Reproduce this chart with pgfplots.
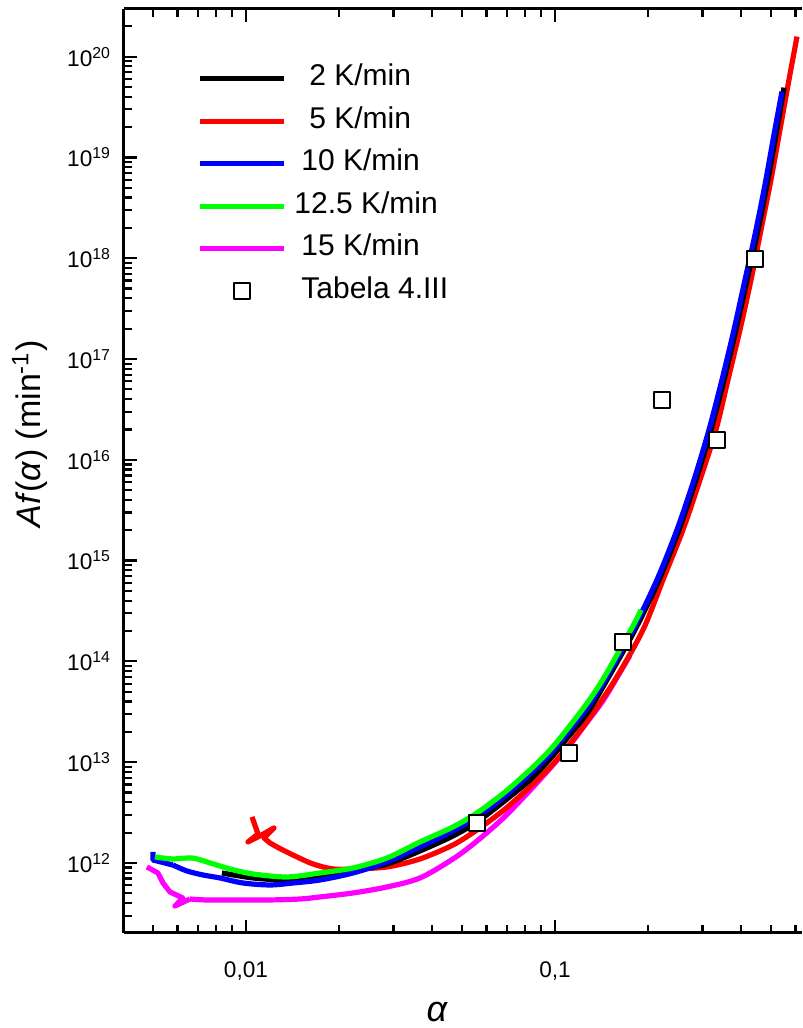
\documentclass[border=0pt]{standalone}
\usepackage{fontspec}
\setmainfont{Liberation Sans}
\usepackage{pgfplots}
\pgfplotsset{compat=1.18}

\definecolor{cblue}{RGB}{0,0,255}
\definecolor{cred}{RGB}{255,0,0}
\definecolor{cgreen}{RGB}{0,255,0}
\definecolor{cmag}{RGB}{255,0,255}

\begin{document}
\begin{tikzpicture}
\begin{axis}[
    scale only axis,
    width=339pt, height=462pt,
    xmode=log, ymode=log,
    xmin=0.00403, xmax=0.63,
    ymin=2.02e11, ymax=2.97e20,
    axis y line=left,
    y axis line style={-},
    axis line style={line width=1.5pt},
    tick align=inside,
    major tick length=6.5pt, minor tick length=4pt,
    tick style={black, line width=1.1pt},
    xtick={0.01,0.1},
    xticklabels={{0,01},{0,1}},
    minor xtick={0.005,0.006,0.007,0.008,0.009,0.02,0.03,0.04,0.05,0.06,0.07,0.08,0.09,0.2,0.3,0.4,0.5,0.6},
    ytick={1e12,1e13,1e14,1e15,1e16,1e17,1e18,1e19,1e20},
    yticklabels={10\textsuperscript{12},10\textsuperscript{13},10\textsuperscript{14},10\textsuperscript{15},10\textsuperscript{16},10\textsuperscript{17},10\textsuperscript{18},10\textsuperscript{19},10\textsuperscript{20}},
    minor ytick={3e11,4e11,5e11,6e11,7e11,8e11,9e11,
        2e12,3e12,4e12,5e12,6e12,7e12,8e12,9e12,
        2e13,3e13,4e13,5e13,6e13,7e13,8e13,9e13,
        2e14,3e14,4e14,5e14,6e14,7e14,8e14,9e14,
        2e15,3e15,4e15,5e15,6e15,7e15,8e15,9e15,
        2e16,3e16,4e16,5e16,6e16,7e16,8e16,9e16,
        2e17,3e17,4e17,5e17,6e17,7e17,8e17,9e17,
        2e18,3e18,4e18,5e18,6e18,7e18,8e18,9e18,
        2e19,3e19,4e19,5e19,6e19,7e19,8e19,9e19,2e20},
    tick label style={font=\fontsize{11.3}{13}\selectfont},
    xticklabel style={yshift=-11pt},
    yticklabel style={xshift=-3pt},
    xlabel={\textit{α}},
    xlabel style={font=\fontsize{18}{20}\selectfont, at={(axis description cs:0.462,-0.0855)}, anchor=center},
    ylabel={\textit{Af}(\textit{α}) (min\textsuperscript{-1})},
    ylabel style={font=\fontsize{17}{19}\selectfont, at={(axis description cs:-0.1386,0.54)}, anchor=center, rotate=0},
    legend cell align=left,
    legend image code/.code={\draw[mark repeat=2, mark phase=2, #1] plot coordinates {(0pt,0pt) (21pt,0pt) (42pt,0pt)};},
    legend style={at={(axis description cs:0.1077,0.939)}, anchor=north west,
        draw=none, fill=none, inner sep=0pt,
        font=\fontsize{15}{15}\selectfont, row sep=8.25pt,
        nodes={inner sep=0pt, text height=10pt, text depth=3pt},
        /tikz/every odd column/.append style={column sep=7.5pt}},
    every axis plot/.append style={line width=2.6pt, line join=round},
]
% legend entries first, the curves follow in overlap order
\addlegendimage{black, line width=2.5pt}
\addlegendentry{\hspace{4pt}2 K/min}
\addlegendimage{cred, line width=2.5pt}
\addlegendentry{\hspace{4pt}5 K/min}
\addlegendimage{cblue, line width=2.5pt}
\addlegendentry{10 K/min}
\addlegendimage{cgreen, line width=2.5pt}
\addlegendentry{\hspace{-3.5pt}12.5 K/min}
\addlegendimage{cmag, line width=2.5pt}
\addlegendentry{15 K/min}
\addlegendimage{only marks, mark=square*, mark size=4pt, mark options={fill=white, draw=black, line width=1.1pt}}
\addlegendentry{Tabela 4.III}

% 15 K/min
\addplot[cmag, forget plot] coordinates {
(0.00478,9.13e11) (0.00519,7.96e11) (0.00539,6.33e11) (0.00568,5.15e11)
(0.00625,4.49e11) (0.00589,3.74e11) (0.00659,4.39e11)
};
\addplot[cmag, smooth, tension=0.5, forget plot] coordinates {
(0.00659,4.39e11) (0.00748,4.29e11)
(0.00908,4.29e11) (0.0117,4.29e11) (0.01496,4.39e11) (0.01736,4.60e11)
(0.0222,5.04e11) (0.0286,5.78e11) (0.03657,7.10e11) (0.04677,1.096e12)
(0.05591,1.65e12) (0.0683,2.82e12) (0.08302,5.25e12) (0.097,8.9e12)
(0.111,1.445e13) (0.128,2.57e13) (0.1452,4.37e13) (0.1749,1.15e14)
};
% 5 K/min
\addplot[cred, forget plot] coordinates {
(0.01046,2.861e12) (0.01077,2.226e12) (0.01094,1.941e12) (0.01015,1.616e12)
(0.0111,1.854e12) (0.01232,2.226e12) (0.01144,1.771e12) (0.01196,1.579e12)
(0.0126,1.441e12)
};
\addplot[cred, smooth, tension=0.5, forget plot] coordinates {
(0.0126,1.441e12) (0.01419,1.2e12) (0.01648,9.77e11) (0.01912,8.72e11)
(0.0222,8.72e11) (0.0286,9.13e11) (0.03657,1.096e12) (0.04677,1.509e12)
(0.05591,2.126e12) (0.0683,3.35e12) (0.08302,5.68e12) (0.097,9.1e12)
(0.111,1.48e13) (0.128,2.63e13) (0.1564,6.553e13)
(0.1927,2.055e14) (0.2236,6.442e14) (0.2595,2.02e15) (0.2947,6.331e15)
(0.3319,1.985e16) (0.363,6.223e16) (0.397,1.951e17) (0.4309,6.117e17)
(0.4642,1.919e18) (0.5,6.016e18) (0.5347,1.886e19) (0.5718,5.911e19)
(0.607,1.58e20)
};
% 2 K/min
\addplot[black, smooth, tension=0.5, forget plot] coordinates {
(0.00836,7.96e11) (0.01054,7.1e11) (0.01357,6.78e11) (0.01736,7.26e11)
(0.0222,8.33e11) (0.0286,9.77e11) (0.03657,1.316e12) (0.04677,1.854e12)
(0.05591,2.552e12) (0.0683,4.07e12) (0.08302,6.67e12) (0.097,1.1e13)
(0.111,1.82e13) (0.128,3.16e13) (0.1473,6.553e13)
(0.1815,2.055e14) (0.2171,6.442e14) (0.2519,2.02e15) (0.286,6.331e15)
(0.3198,1.985e16) (0.3524,6.223e16) (0.3853,1.951e17) (0.4183,6.117e17)
(0.4506,1.711e18) (0.4853,5.364e18) (0.519,1.682e19) (0.5509,4.924e19)
};
% 10 K/min
\addplot[cblue, forget plot] coordinates {
(0.005,1.286e12) (0.005,1.071e12) (0.0058,9.55e11)
};
\addplot[cblue, smooth, tension=0.5, forget plot] coordinates {
(0.0058,9.55e11) (0.00644,8.33e11)
(0.00726,7.6e11) (0.00824,7.1e11) (0.00978,6.33e11) (0.01196,6.05e11)
(0.01419,6.33e11) (0.01736,6.78e11) (0.0222,7.96e11) (0.0286,1.023e12)
(0.03657,1.441e12) (0.04677,2.078e12) (0.05591,2.861e12) (0.0683,4.5e12)
(0.08302,7.65e12) (0.097,1.23e13) (0.111,2.04e13) (0.128,3.55e13)
(0.1452,6.553e13) (0.1788,2.055e14) (0.2138,6.442e14)
(0.2482,2.02e15) (0.2818,6.331e15) (0.3151,1.985e16) (0.3471,6.223e16)
(0.3796,1.951e17) (0.4121,6.117e17) (0.4439,1.711e18) (0.4782,5.364e18)
(0.5113,1.682e19) (0.5427,4.495e19)
};
% 12.5 K/min
\addplot[cgreen, smooth, tension=0.5, forget plot] coordinates {
(0.005076,1.147e12) (0.0058,1.096e12) (0.00669,1.121e12) (0.00748,1.023e12)
(0.00888,8.72e11) (0.01054,7.78e11) (0.01357,7.26e11) (0.01736,7.96e11)
(0.0222,8.92e11) (0.0286,1.121e12) (0.03657,1.616e12) (0.04677,2.277e12)
(0.05591,3.135e12) (0.0683,4.95e12) (0.08302,8.38e12) (0.097,1.35e13)
(0.111,2.24e13) (0.128,3.98e13) (0.1452,7.18e13)
(0.1788,2.251e14) (0.1898,3.245e14)
};
% Tabela 4.III
\addplot[only marks, mark=square*, mark size=4pt, mark options={fill=white, draw=black, line width=1.1pt}, forget plot] coordinates {
(0.0559,2.5e12) (0.111,1.24e13) (0.166,1.56e14) (0.222,3.94e16) (0.334,1.58e16) (0.444,9.9e17)
};
\end{axis}
\pgfresetboundingbox
\path ([xshift=-62pt,yshift=-47.5pt]current axis.south west) rectangle ([yshift=4.5pt]current axis.north east);
\end{tikzpicture}
\end{document}
